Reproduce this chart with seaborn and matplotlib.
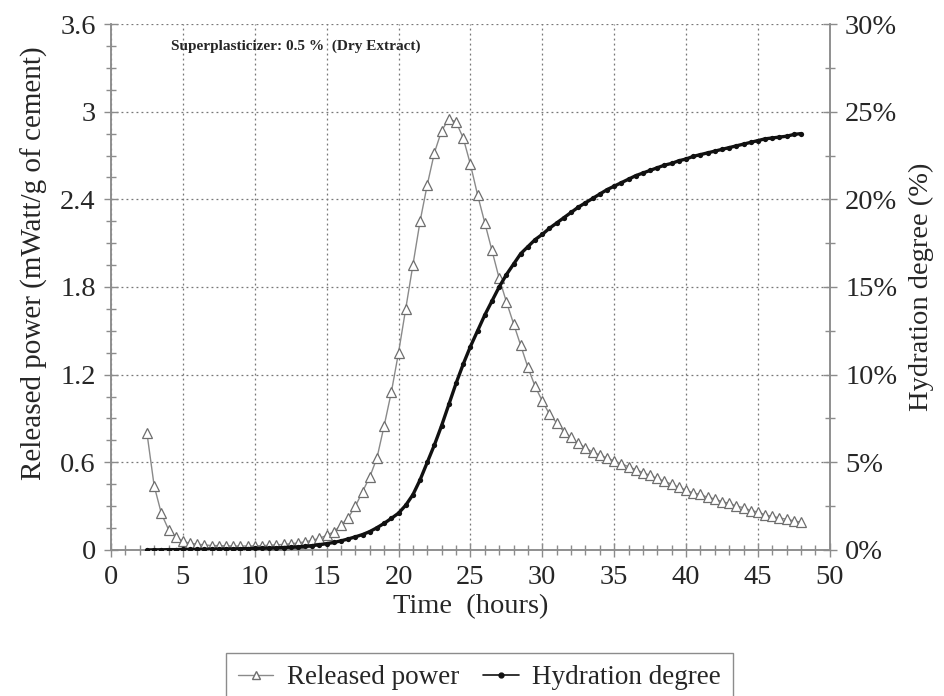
import numpy as np
import pandas as pd
import matplotlib
matplotlib.use("Agg")
import matplotlib.pyplot as plt
from matplotlib.ticker import MultipleLocator, FuncFormatter
from matplotlib.lines import Line2D
import seaborn as sns

# time sampling of the readings (hours)
time_h = np.arange(2.5, 48.01, 0.5)

# released power (mWatt/g of cement), every 0.5 h
released_power = [
    0.80, 0.44, 0.25, 0.14, 0.09, 0.06, 0.045, 0.04, 0.035, 0.03,
    0.03, 0.028, 0.027, 0.027, 0.027, 0.028, 0.03, 0.032, 0.035, 0.038,
    0.042, 0.048, 0.056, 0.066, 0.08, 0.10, 0.125, 0.17, 0.22, 0.30,
    0.40, 0.50, 0.63, 0.85, 1.08, 1.35, 1.65, 1.95, 2.25, 2.50,
    2.72, 2.87, 2.95, 2.93, 2.82, 2.64, 2.43, 2.24, 2.05, 1.86,
    1.70, 1.55, 1.40, 1.25, 1.12, 1.02, 0.93, 0.87, 0.81, 0.77,
    0.73, 0.70, 0.67, 0.65, 0.63, 0.61, 0.59, 0.57, 0.55, 0.53,
    0.51, 0.49, 0.47, 0.45, 0.43, 0.41, 0.39, 0.38, 0.36, 0.35,
    0.33, 0.32, 0.30, 0.29, 0.27, 0.26, 0.24, 0.23, 0.22, 0.21,
    0.20, 0.19,
]

# hydration degree (%), every 0.5 h
hydration_degree = [
    0.00, 0.01, 0.01, 0.02, 0.02, 0.03, 0.03, 0.04, 0.04, 0.05,
    0.05, 0.06, 0.06, 0.07, 0.08, 0.09, 0.10, 0.11, 0.12, 0.14,
    0.16, 0.18, 0.21, 0.25, 0.30, 0.36, 0.43, 0.52, 0.63, 0.75,
    0.88, 1.05, 1.27, 1.52, 1.80, 2.10, 2.55, 3.15, 4.0, 5.0,
    6.0, 7.1, 8.3, 9.5, 10.6, 11.6, 12.5, 13.4, 14.2, 15.0,
    15.7, 16.3, 16.9, 17.3, 17.7, 18.0, 18.35, 18.65, 18.95, 19.25,
    19.55, 19.8, 20.05, 20.3, 20.55, 20.75, 20.95, 21.15, 21.35, 21.5,
    21.65, 21.8, 21.95, 22.05, 22.2, 22.3, 22.45, 22.55, 22.65, 22.75,
    22.85, 22.95, 23.05, 23.15, 23.25, 23.35, 23.45, 23.5, 23.55, 23.6,
    23.7, 23.75,
]

df = pd.DataFrame({"time": time_h, "power": released_power,
                   "hydration": hydration_degree})

sns.set_theme(style="ticks")
plt.rcParams["font.family"] = ["Liberation Serif", "DejaVu Serif"]

fig = plt.figure(figsize=(9.44, 6.96), dpi=100)
ax = fig.add_axes([0.1176, 0.2098, 0.7614, 0.7557])
ax2 = ax.twinx()

sns.lineplot(data=df, x="time", y="power", ax=ax, color="#8a8a8a",
             linewidth=1.0, marker="^", markersize=6.5, markerfacecolor="white",
             markeredgecolor="#6e6e6e", markeredgewidth=0.9, zorder=3)
sns.lineplot(data=df, x="time", y="hydration", ax=ax2, color="#111111",
             linewidth=2.4, marker="o", markersize=3.8, markeredgewidth=0,
             zorder=3)

grey = "#8c8c8c"
ax.set_xlim(0, 50)
ax.set_ylim(0, 3.6)
ax2.set_ylim(0, 30)

ax.xaxis.set_major_locator(MultipleLocator(5))
ax.xaxis.set_minor_locator(MultipleLocator(1))
ax.yaxis.set_major_locator(MultipleLocator(0.6))
ax.yaxis.set_minor_locator(MultipleLocator(0.15))
ax.yaxis.set_major_formatter(FuncFormatter(lambda v, p: "0" if v == 0 else f"{v:g}"))
ax2.yaxis.set_major_locator(MultipleLocator(5))
ax2.yaxis.set_minor_locator(MultipleLocator(2.5))
ax2.yaxis.set_major_formatter(FuncFormatter(lambda v, p: f"{v:.0f}%"))

ax.grid(True, which="major", linestyle=(0, (1.5, 2.5)), color="#777777",
        linewidth=0.9)
for a in (ax, ax2):
    a.tick_params(which="major", direction="inout", length=10, width=1,
                  color=grey, labelsize=20.5, pad=6)
    a.tick_params(which="minor", direction="inout", length=7, width=1,
                  color=grey)
    for s in a.spines.values():
        s.set_color(grey)
        s.set_linewidth(1.1)
    a.spines["top"].set_visible(False)

ax.set_xlabel("Time  (hours)", fontsize=20.5, labelpad=3)
ax.set_ylabel("Released power (mWatt/g of cement)", fontsize=21)
ax.yaxis.set_label_coords(-0.088, 0.545)
ax2.set_ylabel("Hydration degree (%)", fontsize=20.5, labelpad=8)

ax.text(4.2, 3.45, "Superplasticizer: 0.5 %  (Dry Extract)", fontsize=11,
        fontweight="bold", va="center", ha="left")

handles = [
    Line2D([], [], color="#8a8a8a", linewidth=1.0, marker="^", markersize=6,
           markerfacecolor="white", markeredgecolor="#6e6e6e"),
    Line2D([], [], color="#111111", linewidth=1.2, marker="o", markersize=3.5),
]
fig.legend(handles, ["Released power", "Hydration degree"],
           loc="upper center", bbox_to_anchor=(0.508, 0.062), ncol=2,
           fontsize=19.5, frameon=True, fancybox=False, edgecolor=grey,
           framealpha=1, handlelength=1.3, handletextpad=0.5,
           columnspacing=0.9, borderpad=0.45, borderaxespad=0)

fig.savefig("out.png", dpi=100)
